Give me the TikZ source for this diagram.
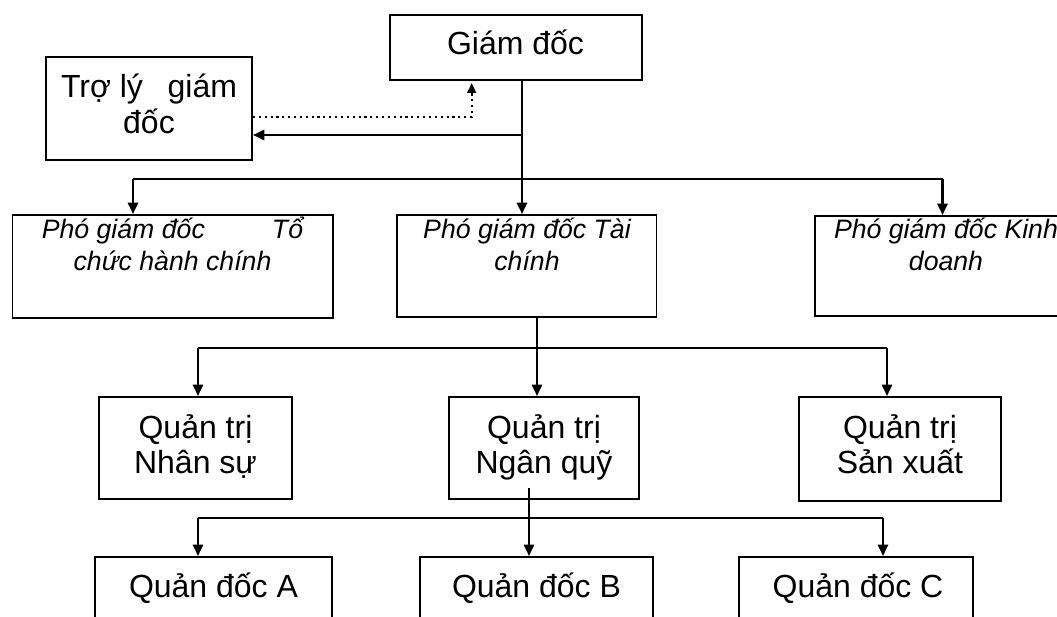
\documentclass[tikz,border=0pt]{standalone}
\usepackage{fontspec}
\setmainfont{Liberation Sans}
\usetikzlibrary{arrows.meta,fit,calc}
\newcommand\twoline[1]{\begin{tabular}[t]{@{}c@{}}#1\end{tabular}}
\begin{document}
\begin{tikzpicture}[x=0.75pt,y=-0.75pt,
  box/.style={draw,line width=1.4pt,inner sep=0pt},
  conn/.style={line width=2pt},
  arr/.style={conn,-{Triangle[length=8.5pt,width=7.5pt]}},
  dotarr/.style={line width=1.6pt,dash pattern=on 1.6pt off 2.8pt,-{Triangle[length=7.5pt,width=6.5pt]}},
  txt/.style={inner sep=0pt,anchor=base,font=\fontsize{24}{26.4}\selectfont},
  itxt/.style={inner sep=0pt,anchor=base,font=\itshape\fontsize{20}{24}\selectfont}]
\useasboundingbox (0,0) rectangle (1057,617);
\clip (0,0) rectangle (1057,617);
% boxes
\node[box,fit={(390,15) (642,80)}] (gd) {};
\node[box,fit={(46,57) (252,160)}] (tl) {};
\node[box,fit={(12.5,215) (333,318)}] (tchc) {};
\node[box,fit={(397,215) (656.5,317)}] (tc) {};
\node[box,fit={(815,216) (1075,316)}] (kd) {};
\node[box,fit={(99,397) (292,499)}] (ns) {};
\node[box,fit={(449,397) (639,499)}] (nq) {};
\node[box,fit={(799,397) (1001,501)}] (sx) {};
\node[box,fit={(95,557) (332,640)}] (qa) {};
\node[box,fit={(420,557) (653,640)}] (qb) {};
\node[box,fit={(739,557) (973,640)}] (qc) {};
% texts
\node[txt] (tgd) at (515.5,55) {Giám đốc};
\node[txt,font=\fontsize{24}{26.7}\selectfont] (ttl) at (149,97.7) {\twoline{\makebox[132pt]{Trợ lý\hfill giám}\\đốc}};
\node[itxt] (ttchc) at (172.5,238) {\twoline{\makebox[196pt]{Phó giám đốc\hfill Tổ}\\chức hành chính}};
\node[itxt] (ttc) at (527,238) {\twoline{Phó giám đốc Tài\\chính}};
\node[itxt] (tkd) at (946,238) {\twoline{Phó giám đốc Kinh\\doanh}};
\node[txt] (tns) at (195.5,438) {\twoline{Quản trị\\Nhân sự}};
\node[txt] (tnq) at (544,438) {\twoline{Quản trị\\Ngân quỹ}};
\node[txt] (tsx) at (900,438) {\twoline{Quản trị\\Sản xuất}};
\node[txt] (tqa) at (213.5,597) {Quản đốc A};
\node[txt] (tqb) at (536.5,597) {Quản đốc B};
\node[txt] (tqc) at (858,597) {Quản đốc C};
% junctions
\coordinate (b1) at (522,179);
\coordinate (b1l) at (133,179);
\coordinate (b1r) at (942.5,179);
\coordinate (tlj) at (522,135);
\coordinate (dj) at (471.7,117.3);
\coordinate (b2) at (537,348);
\coordinate (b2l) at (198,348);
\coordinate (b2r) at (887,348);
\coordinate (nqo) at (529,488);
\coordinate (b3) at (529,518);
\coordinate (b3l) at (198,518);
\coordinate (b3r) at (883,518);
% connectors level 1
\draw[conn] (b1 |- gd.south) -- (b1);
\draw[arr] (tlj) -- (tlj -| tl.east);
\draw[dotarr,shorten >=1.5pt] (dj -| tl.east) -- (dj) -- (dj |- gd.south);
\draw[conn] (b1l) -- (b1r);
\draw[arr] (b1l) -- (b1l |- tchc.north);
\draw[arr] (b1) -- (b1 |- tc.north);
\draw[arr] (b1r) -- (b1r |- kd.north);
% connectors level 2
\draw[conn] (b2 |- tc.south) -- (b2);
\draw[conn] (b2l) -- (b2r);
\draw[arr] (b2l) -- (b2l |- ns.north);
\draw[arr] (b2) -- (b2 |- nq.north);
\draw[arr] (b2r) -- (b2r |- sx.north);
% connectors level 3
\draw[conn] (nqo) -- (b3);
\draw[conn] (b3l) -- (b3r);
\draw[arr] (b3l) -- (b3l |- qa.north);
\draw[arr] (b3) -- (b3 |- qb.north);
\draw[arr] (b3r) -- (b3r |- qc.north);
\end{tikzpicture}
\end{document}
